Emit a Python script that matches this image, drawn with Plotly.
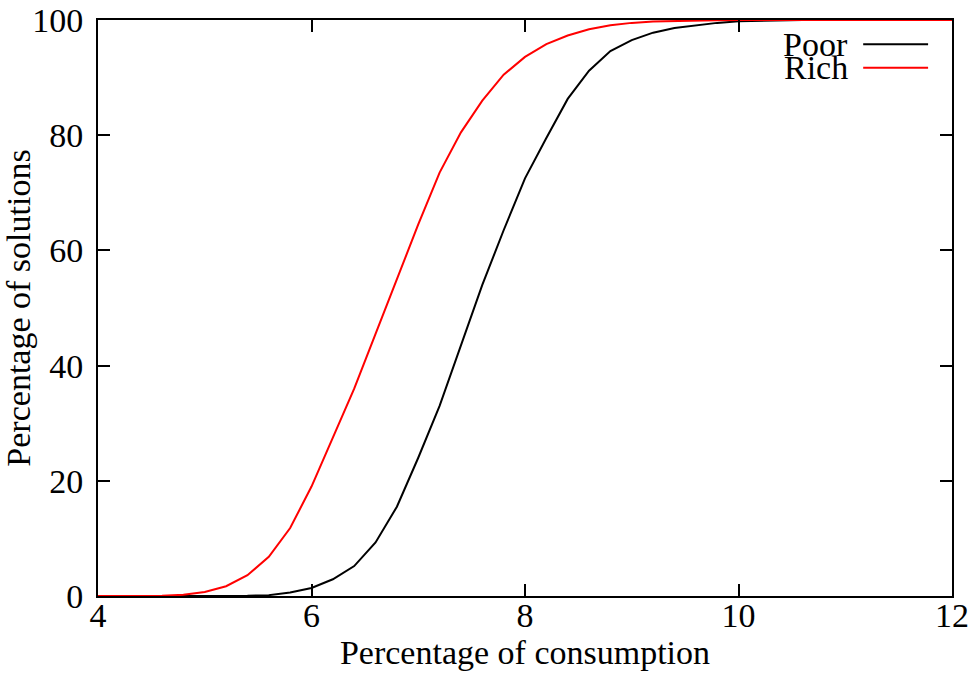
import plotly.graph_objects as go

consumption = [4.0, 4.2, 4.4, 4.6, 4.8, 5.0, 5.2, 5.4, 5.6, 5.8, 6.0, 6.2, 6.4, 6.6, 6.8,
               7.0, 7.2, 7.4, 7.6, 7.8, 8.0, 8.2, 8.4, 8.6, 8.8, 9.0, 9.2, 9.4, 9.6, 9.8,
               10.0, 10.2, 10.4, 10.6, 10.8, 11.0, 11.5, 12.0]

poor = [0, 0, 0, 0, 0, 0, 0, 0.05, 0.15, 0.6, 1.4, 2.9, 5.2, 9.3, 15.5,
        24.0, 33.0, 43.5, 54.0, 63.5, 72.5, 79.5, 86.3, 91.2, 94.6, 96.5, 97.8, 98.6, 99.1, 99.5,
        99.8, 99.9, 100, 100, 100, 100, 100, 100]

rich = [0, 0, 0, 0.05, 0.2, 0.7, 1.7, 3.6, 6.8, 11.8, 19.0, 27.5, 36.0, 45.5, 55.0,
        64.5, 73.5, 80.5, 86.0, 90.5, 93.6, 95.8, 97.3, 98.4, 99.1, 99.5, 99.75, 99.85, 99.9, 99.95,
        100, 100, 100, 100, 100, 100, 100, 100]

series_names = ["Poor", "Rich"]
series_colors = ["#000000", "#ff0000"]

x_ticks = [4, 6, 8, 10, 12]
y_ticks = [0, 20, 40, 60, 80, 100]

FONT = "Liberation Serif, Times New Roman, serif"
FS = 34

fig = go.Figure()
for name, vals, col in zip(series_names, [poor, rich], series_colors):
    fig.add_trace(go.Scatter(x=consumption, y=vals, mode="lines", name=name,
                             line=dict(color=col, width=2), cliponaxis=False,
                             showlegend=False))

# gnuplot-style legend: text, then line sample
leg_y = [0.958, 0.917]
for name, col, yy in zip(series_names, series_colors, leg_y):
    fig.add_annotation(xref="paper", yref="paper", x=0.880, y=yy, text=name,
                       showarrow=False, xanchor="right", yanchor="middle",
                       font=dict(family=FONT, size=FS, color="black"))
    fig.add_shape(type="line", xref="paper", yref="paper",
                  x0=0.896, x1=0.972, y0=yy, y1=yy,
                  line=dict(color=col, width=2))

axis_common = dict(showline=True, linecolor="black", linewidth=2, mirror="ticks",
                   ticks="inside", ticklen=12, tickwidth=2, tickcolor="black",
                   showgrid=False, zeroline=False, automargin=False,
                   tickfont=dict(family=FONT, size=FS, color="black"))

fig.update_xaxes(range=[4, 12], tickvals=x_ticks, ticktext=[str(v) for v in x_ticks],
                 ticklabelstandoff=-12,
                 title=dict(text="Percentage of consumption", standoff=0,
                            font=dict(family=FONT, size=FS, color="black")),
                 **axis_common)
fig.update_yaxes(range=[0, 100], tickvals=y_ticks, ticktext=[str(v) for v in y_ticks],
                 ticklabelstandoff=6,
                 title=dict(text="Percentage of solutions", standoff=0,
                            font=dict(family=FONT, size=FS, color="black")),
                 **axis_common)

fig.update_layout(width=975, height=674, margin=dict(l=98, r=23, t=20, b=78),
                  plot_bgcolor="white", paper_bgcolor="white",
                  font=dict(family=FONT, size=FS, color="black"))

fig.write_html("out.html", config={"displayModeBar": False},
               post_script="document.body.style.margin='0';document.body.style.overflow='hidden';")
